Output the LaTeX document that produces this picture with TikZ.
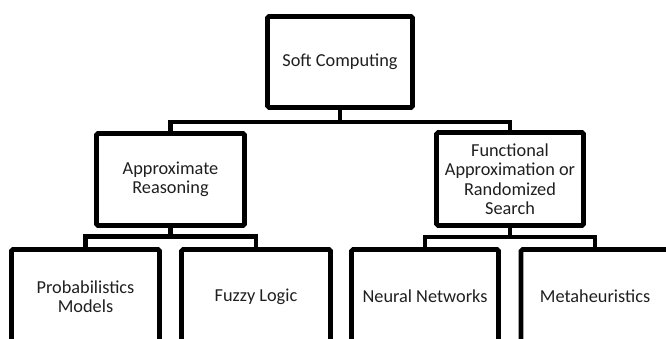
\documentclass[tikz,border=0pt]{standalone}
\usepackage{fontspec}
\setmainfont{Carlito}
\usetikzlibrary{calc}
\begin{document}
\begin{tikzpicture}[x=1pt,y=-1pt,
  box/.style={draw=black, line width=4.6pt, rounded corners=1.5pt,
    minimum width=#1, align=center, inner sep=0pt, text=black!88,
    font=\fontsize{18.3}{19.5}\selectfont},
  box/.default=147pt,
  link/.style={draw=black, line width=4.4pt}]
\useasboundingbox (0,0) rectangle (666,339);
\begin{scope}
\clip (0,0) rectangle (666,339);
% root
\node[box=145pt, minimum height=91pt] (root) at (340,62) {Soft Computing};
% second level
\node[box=148pt, minimum height=92pt] (ar) at (170.5,179.5) {Approximate\\Reasoning};
\node[box=147pt, minimum height=93pt] (fa) at (510,179) {Functional\\Approximation or\\Randomized\\Search};
% leaves
\node[box=148pt, minimum height=94pt] (pm) at (85.5,296.5) {Probabilistics\\Models};
\node[box=149pt, minimum height=94pt] (fl) at (256,296.5) {Fuzzy Logic};
\node[box=147pt, minimum height=94pt] (nn) at (425,296.5) {Neural Networks};
\node[box=148pt, minimum height=94pt] (mh) at (595,296.5) {Metaheuristics};
% connectors
\coordinate (j0) at ($(root.south)+(0,12.5)$);
\coordinate (j1) at ($(ar.south)+(0,8.5)$);
\coordinate (j2) at ($(fa.south)+(0,9)$);
\draw[link] (root.south) -- (j0);
\draw[link] (ar.north) |- (j0) -| (fa.north);
\draw[link] (ar.south) -- (j1);
\draw[link] (pm.north) |- (j1) -| (fl.north);
\draw[link] (fa.south) -- (j2);
\draw[link] (nn.north) |- (j2) -| (mh.north);
\end{scope}
\end{tikzpicture}
\end{document}
